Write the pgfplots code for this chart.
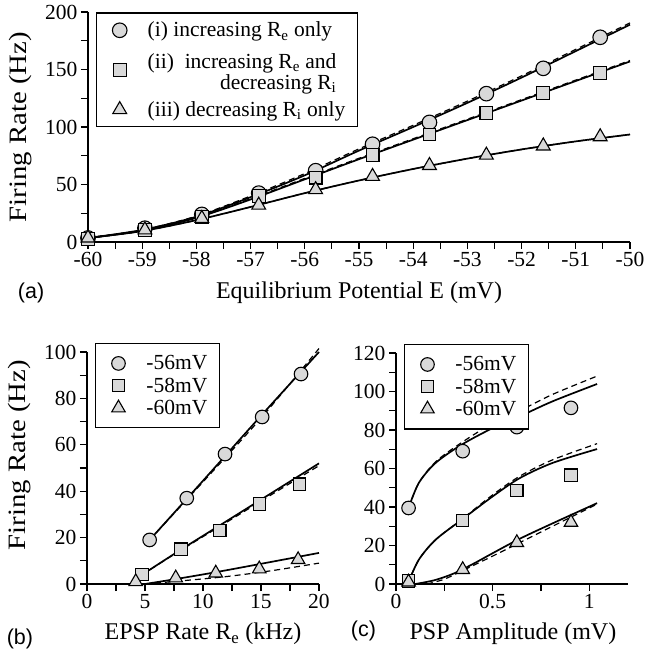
\documentclass[border=0pt]{standalone}
\usepackage{fontspec}
\setmainfont{Liberation Serif}
\newfontfamily\labfont{Liberation Sans}
\usepackage{pgfplots}
\pgfplotsset{compat=1.18}
\definecolor{mfill}{HTML}{D9D9D9}

\newcommand{\bigf}{\fontsize{21.5}{21}\selectfont}
\newcommand{\labf}{\fontsize{24}{26}\selectfont}
\newcommand{\ylabf}{\fontsize{25}{27}\selectfont}

\pgfplotsset{
  fr/.style={
    scale only axis,
    axis lines=left,
    axis line style={-, line width=1.2pt},
    tick align=outside,
    major tick length=7pt, minor tick length=7pt,
    tick style={black, line width=1.1pt},
    tick label style={font=\bigf},
    /pgf/number format/assume math mode=true,
    label style={font=\labf},
    ylabel style={font=\ylabf, xscale=1.15},
    clip=false,
    legend cell align=left,
    legend style={draw=black, line width=1.2pt, font=\bigf,
      inner xsep=10pt, inner ysep=10pt, row sep=2.5pt,
      nodes={inner sep=2pt}},
  },
  pts/.style={only marks, mark options={fill=mfill, draw=black, line width=1.1pt},
    legend image code/.code={\path[draw=none] (-13pt,0pt) -- (26pt,0pt);
      \draw[##1] plot coordinates {(0pt,0pt)};}},
  fit/.style={black, line width=1.7pt, no markers, smooth, forget plot},
  fitd/.style={black, line width=1.2pt, dash pattern=on 6pt off 4pt, no markers, smooth, forget plot},
}

\begin{document}
\begin{tikzpicture}
\useasboundingbox (0,0) rectangle (645pt,654pt);

% ---- (a) ----
\begin{axis}[fr, at={(88pt,412pt)}, anchor=south west,
  width=542pt, height=230pt,
  xmin=-60, xmax=-50, ymin=0, ymax=200,
  xtick={-60,-59,...,-50}, ytick={0,50,...,200},
  minor x tick num=1, minor y tick num=1,
  xlabel={Equilibrium Potential E (mV)},
  ylabel={Firing Rate (Hz)},
  xlabel style={at={(axis description cs:0.5,-0.245)}, anchor=base},
  ylabel style={at={(axis description cs:-0.124,0.5)}, anchor=center},
  legend style={at={(axis description cs:0.015,0.998)}, anchor=north west,
    row sep=11pt, inner ysep=7pt},
]
\addplot[fit] coordinates {(-60,3.5)(-59,10.5)(-58,22)(-57,39)(-56,58)(-55,79.5)(-54,100)(-53,121)(-52,143)(-51,166)(-50,189)};
\addplot[fitd] coordinates {(-60,3.5)(-59,10.5)(-58,22.5)(-57,40)(-56,59.5)(-55,81)(-54,101.5)(-53,122.5)(-52,144.5)(-51,167.5)(-50,190.5)};
\addplot[fit] coordinates {(-60,3.5)(-59,9.8)(-58,21)(-57,37)(-56,54.5)(-55,72)(-54,89)(-53,106)(-52,123)(-51,140)(-50,157)};
\addplot[fitd] coordinates {(-60,3.5)(-59,9.8)(-58,21.3)(-57,37.6)(-56,55.3)(-55,72.8)(-54,89.8)(-53,106.8)(-52,123.8)(-51,140.8)(-50,157.8)};
\addplot[fit] coordinates {(-60,3.5)(-59,9.5)(-58,19)(-57,30.5)(-56,42.5)(-55,53.5)(-54,63.5)(-53,72.5)(-52,80.5)(-51,87.5)(-50,93.5)};
\addplot[fitd] coordinates {(-60,3.5)(-59,9.5)(-58,19)(-57,30.5)(-56,42.5)(-55,53.5)(-54,63.5)(-53,72.5)(-52,80.5)(-51,87.5)(-50,93.5)};
\addplot[pts, mark=*, mark size=7.3pt] coordinates {(-60,3.5)(-58.95,12)(-57.9,24)(-56.85,42.5)(-55.8,62)(-54.75,85)(-53.7,104)(-52.65,129)(-51.6,151)(-50.55,178)};
\addplot[pts, mark=square*, mark size=6.4pt] coordinates {(-60,2.5)(-58.95,10.5)(-57.9,22)(-56.85,40)(-55.8,56)(-54.75,75.5)(-53.7,93.5)(-52.65,112)(-51.6,129.5)(-50.55,147)};
\addplot[pts, mark=triangle*, mark size=8pt] coordinates {(-60,3.5)(-58.95,10.5)(-57.9,20.5)(-56.85,32)(-55.8,45.5)(-54.75,57)(-53.7,66.5)(-52.65,75.5)(-51.6,83.5)(-50.55,91.5)};
\legend{(i) increasing R\textsubscript{e} only,
  {\begin{tabular}{@{}r@{}}(ii)\ \ increasing R\textsubscript{e} and\\ decreasing R\textsubscript{i}\rule[-16.3pt]{0pt}{1pt}\end{tabular}},
  (iii) decreasing R\textsubscript{i} only}
\node[font=\labfont\bigf, anchor=base] at (axis description cs:-0.105,-0.245) {(a)};
\end{axis}

% ---- (b) ----
\begin{axis}[fr, at={(87pt,70pt)}, anchor=south west,
  width=232pt, height=232pt,
  xmin=0, xmax=20, ymin=0, ymax=100,
  xtick={0,5,...,20}, ytick={0,20,...,100},
  minor x tick num=1, minor y tick num=1,
  xlabel={EPSP Rate R\textsubscript{e} (kHz)},
  ylabel={Firing Rate (Hz)},
  xlabel style={at={(axis description cs:0.5,-0.241)}, anchor=base},
  ylabel style={at={(axis description cs:-0.289,0.556)}, anchor=center},
  legend style={at={(axis description cs:0.034,1.039)}, anchor=north west},
]
\addplot[fit] coordinates {(5.4,19)(10,44.5)(15,72.5)(20,100)};
\addplot[fitd] coordinates {(5.4,19)(10,44)(15,71.5)(20,101.5)};
\addplot[fit] coordinates {(4.75,4)(8,14.5)(12,27)(16,39.5)(20,52)};
\addplot[fitd] coordinates {(4.75,4)(8,14.3)(12,26.5)(16,38.8)(20,51)};
\addplot[fit] coordinates {(5,0)(7.5,2)(11,5)(15,8.7)(20,13.4)};
\addplot[fitd] coordinates {(5,0)(8,1.3)(12,3.2)(16,5.8)(20,9)};
\addplot[pts, mark=*, mark size=6.8pt] coordinates {(5.4,19)(8.6,37)(11.9,56)(15.1,72)(18.45,90.5)};
\addplot[pts, mark=square*, mark size=6.2pt] coordinates {(4.75,4)(8.1,15)(11.45,23)(14.85,34.5)(18.3,43)};
\addplot[pts, mark=triangle*, mark size=7.8pt] coordinates {(4.2,1)(7.65,2.6)(11.1,4.7)(14.85,6.5)(18.2,10.5)};
\legend{-56mV,-58mV,-60mV}
\node[font=\labfont\bigf, anchor=base] at (axis description cs:-0.289,-0.259) {(b)};
\end{axis}

% ---- (c) ----
\begin{axis}[fr, at={(396pt,70pt)}, anchor=south west,
  width=232pt, height=231pt,
  xmin=0, xmax=1.2, ymin=0, ymax=120,
  xtick={0,0.5,1}, ytick={0,20,...,120},
  minor x tick num=1, minor y tick num=1,
  xlabel={PSP Amplitude (mV)},
  xlabel style={at={(axis description cs:0.504,-0.241)}, anchor=base},
  legend style={at={(axis description cs:0.034,1.039)}, anchor=north west},
]
\addplot[fit] coordinates {(0.065,39.5)(0.118,52.5)(0.205,62.9)(0.34,72.4)(0.5,81)(0.64,87.1)(0.81,94.9)(1.04,103.9)};
\addplot[fitd] coordinates {(0.065,39.5)(0.118,52.5)(0.205,63.5)(0.34,73.5)(0.5,83.5)(0.64,90)(0.81,98.5)(1.04,108)};
\addplot[fit] coordinates {(0.06,0)(0.118,12.6)(0.205,23)(0.34,33.4)(0.5,45.5)(0.64,55)(0.81,62.9)(1.04,70.1)};
\addplot[fitd] coordinates {(0.06,0)(0.118,12.6)(0.205,23)(0.34,33.6)(0.5,46.3)(0.64,56)(0.81,64.5)(1.04,72.9)};
\addplot[fit] coordinates {(0.1,0)(0.2,2)(0.3,5.5)(0.4,10.5)(0.5,16)(0.64,23.5)(0.81,31.5)(1.04,42)};
\addplot[fitd] coordinates {(0.16,0)(0.25,2.5)(0.345,7)(0.5,14.5)(0.64,21.5)(0.81,30)(1.04,41.5)};
\addplot[pts, mark=*, mark size=6.8pt] coordinates {(0.065,39.5)(0.345,69)(0.625,81.5)(0.905,91.5)};
\addplot[pts, mark=square*, mark size=6.2pt] coordinates {(0.065,1.5)(0.345,33)(0.625,48.5)(0.905,56.5)};
\addplot[pts, mark=triangle*, mark size=7.8pt] coordinates {(0.065,1)(0.345,7.5)(0.625,21.5)(0.905,32)};
\legend{-56mV,-58mV,-60mV}
\node[font=\labfont\bigf, anchor=base] at (axis description cs:-0.14,-0.229) {(c)};
\end{axis}
\end{tikzpicture}
\end{document}
